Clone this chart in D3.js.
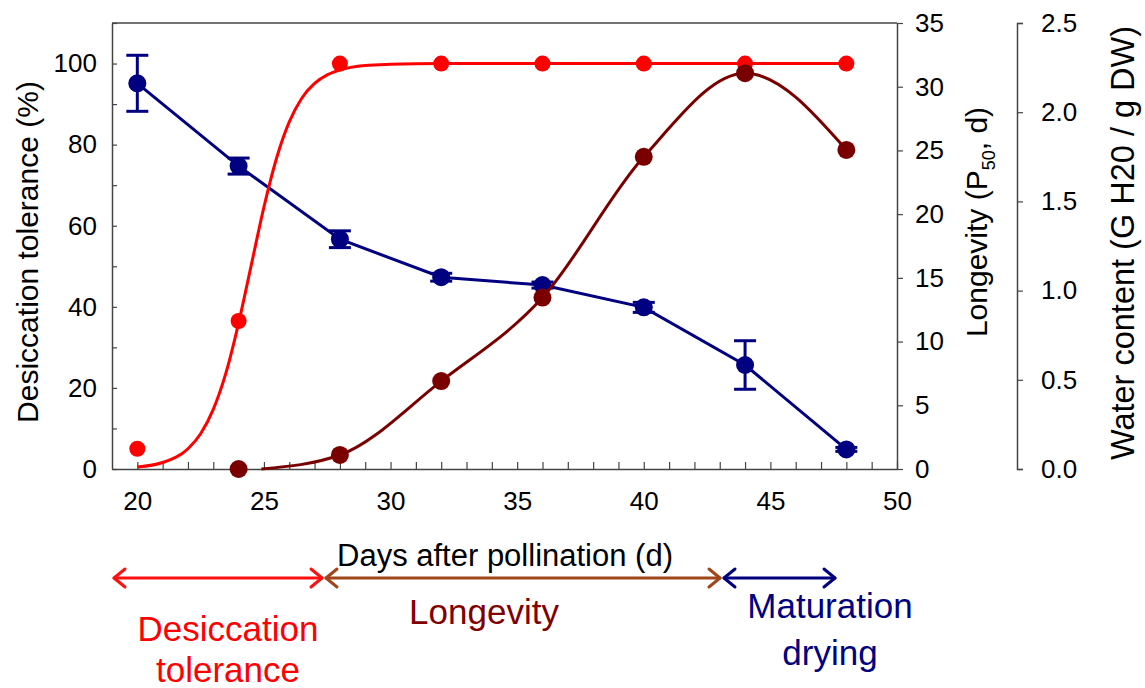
<!DOCTYPE html>
<html>
<head>
<meta charset="utf-8">
<script src="https://cdn.jsdelivr.net/npm/d3@7"></script>
<style>
  html, body { margin: 0; padding: 0; background: #fff; }
  svg { display: block; }
  text { font-family: "Liberation Sans", Arial, sans-serif; }
</style>
</head>
<body>
<svg id="chart" width="1145" height="688"></svg>
<script>
// ---------- DATA ----------
const days = [20, 24, 28, 32, 36, 40, 44, 48];
// Desiccation tolerance (%), left axis
const desiccationTol = [5, 36.5, 100, 100, 100, 100, 100, 100];
// Fitted desiccation-tolerance curve
const dtFitDays = [20, 21, 22, 22.5, 23, 23.5, 24, 24.5, 25, 25.5, 26, 26.5, 27, 27.5, 28, 29, 30, 32, 36, 40, 44, 48];
const dtFitVals = [0.5, 1.6, 5.0, 8.7, 14.7, 23.7, 36.0, 50.3, 64.6, 76.7, 85.6, 91.5, 95.1, 97.2, 98.4, 99.5, 99.8, 100, 100, 100, 100, 100];
// Longevity (P50, d), right axis
const longDays = [24, 28, 32, 36, 40, 44, 48];
const longevity = [0, 1.1, 6.9, 13.45, 24.5, 31.06, 25.04];
const longFitDays = [24.9, 28, 32, 36, 40, 44, 48];
const longFitVals = [0, 1.1, 6.9, 13.45, 24.5, 31.06, 25.04];
// Water content (g H2O / g DW), far right axis
const waterContent = [2.162, 1.698, 1.288, 1.075, 1.031, 0.906, 0.583, 0.11];
const waterErr = [0.157, 0.045, 0.047, 0.022, 0.017, 0.028, 0.136, 0.011];
// Tick values
const xMajorTicks = [20, 25, 30, 35, 40, 45, 50];
const xMinorTicks = d3.range(20, 51, 1);
const leftMajorTicks = [0, 20, 40, 60, 80, 100];
const leftMinorTicks = [10, 30, 50, 70, 90, 110];
const longTicks = [0, 5, 10, 15, 20, 25, 30, 35];
const waterTicks = [0, 0.5, 1.0, 1.5, 2.0, 2.5];
// Phase annotations
const phaseLabels = [["Desiccation", "tolerance"], ["Longevity"], ["Maturation", "drying"]];

// ---------- LAYOUT ----------
const L = 112, R = 897, T = 23, B = 469;
const svg = d3.select("#chart");
const x = d3.scaleLinear().domain([19, 50]).range([L, R]);
const yL = d3.scaleLinear().domain([0, 110]).range([B, T]);
const yR = d3.scaleLinear().domain([0, 35]).range([B, T]);
const yW = d3.scaleLinear().domain([0, 2.5]).range([B, T]);

const axisColor = "#444";
const tickFont = 26;
const RED = "#ff0000", DARKRED = "#7a0000", NAVY = "#000080";

function styleAxis(g) {
  g.selectAll("path.domain").attr("stroke", axisColor).attr("stroke-width", 1.5);
  g.selectAll(".tick line").attr("stroke", axisColor).attr("stroke-width", 1.2);
  g.selectAll(".tick text").attr("fill", "#000").attr("font-size", tickFont)
    .attr("font-family", "'Liberation Sans', Arial, sans-serif");
}

// Frame top line
svg.append("line").attr("x1", L).attr("x2", R).attr("y1", T).attr("y2", T)
  .attr("stroke", axisColor).attr("stroke-width", 1.5);

// Bottom axis: minor ticks (every day) inward
const gxMinor = svg.append("g").attr("transform", `translate(0,${B})`)
  .call(d3.axisBottom(x).tickValues(xMinorTicks).tickSizeInner(-7).tickSizeOuter(0).tickFormat(""));
styleAxis(gxMinor);
const gx = svg.append("g").attr("transform", `translate(0,${B})`)
  .call(d3.axisBottom(x).tickValues(xMajorTicks).tickSizeInner(0).tickSizeOuter(0).tickPadding(23).tickFormat(d3.format("d")));
styleAxis(gx);
gx.select("path.domain").remove();

// Left axis
const gyMinor = svg.append("g").attr("transform", `translate(${L},0)`)
  .call(d3.axisLeft(yL).tickValues(leftMinorTicks).tickSizeInner(-5).tickSizeOuter(0).tickFormat(""));
styleAxis(gyMinor);
const gy = svg.append("g").attr("transform", `translate(${L},0)`)
  .call(d3.axisLeft(yL).tickValues(leftMajorTicks).tickSizeInner(-5).tickSizeOuter(0).tickPadding(15).tickFormat(d3.format("d")));
styleAxis(gy);
gy.select("path.domain").remove();

// Right longevity axis
const gr = svg.append("g").attr("transform", `translate(${R},0)`)
  .call(d3.axisRight(yR).tickValues(longTicks).tickSizeInner(6).tickSizeOuter(0).tickPadding(12).tickFormat(d3.format("d")));
styleAxis(gr);

// Water content axis
const XW = 1017;
const gw = svg.append("g").attr("transform", `translate(${XW},0)`)
  .call(d3.axisRight(yW).tickValues(waterTicks).tickSizeInner(6).tickSizeOuter(6).tickPadding(18).tickFormat(d3.format(".1f")));
styleAxis(gw);

// Axis titles
svg.append("text").attr("transform", `translate(38,252) rotate(-90)`)
  .attr("text-anchor", "middle").attr("font-size", 30).text("Desiccation tolerance (%)");
const lt = svg.append("text").attr("transform", `translate(987,222) rotate(-90)`)
  .attr("text-anchor", "middle").attr("font-size", 30);
lt.append("tspan").text("Longevity (P");
lt.append("tspan").attr("font-size", 18).attr("dy", 8).text("50");
lt.append("tspan").attr("dy", -8).text(", d)");
svg.append("text").attr("transform", `translate(1134,243) rotate(-90)`)
  .attr("text-anchor", "middle").attr("font-size", 32.5).text("Water content (G H20 / g DW)");
svg.append("text").attr("x", 505).attr("y", 566).attr("text-anchor", "middle")
  .attr("font-size", 31).text("Days after pollination (d)");

// ---------- SERIES ----------
// Water content (navy), linear segments with error bars
const wIdx = d3.range(days.length);
svg.append("path").datum(wIdx)
  .attr("fill", "none").attr("stroke", NAVY).attr("stroke-width", 3)
  .attr("d", d3.line().x(i => x(days[i])).y(i => yW(waterContent[i])));
const eb = svg.append("g").attr("stroke", NAVY).attr("stroke-width", 3);
wIdx.forEach(i => {
  const cx = x(days[i]), y1 = yW(waterContent[i] + waterErr[i]), y2 = yW(waterContent[i] - waterErr[i]);
  eb.append("line").attr("x1", cx).attr("x2", cx).attr("y1", y1).attr("y2", y2);
  eb.append("line").attr("x1", cx - 11).attr("x2", cx + 11).attr("y1", y1).attr("y2", y1);
  eb.append("line").attr("x1", cx - 11).attr("x2", cx + 11).attr("y1", y2).attr("y2", y2);
});
svg.append("g").selectAll("circle").data(wIdx).join("circle")
  .attr("cx", i => x(days[i])).attr("cy", i => yW(waterContent[i])).attr("r", 9).attr("fill", NAVY);

// Desiccation tolerance (red) fitted curve + points
const dtIdx = d3.range(dtFitDays.length);
svg.append("path").datum(dtIdx)
  .attr("fill", "none").attr("stroke", RED).attr("stroke-width", 3)
  .attr("d", d3.line().curve(d3.curveMonotoneX).x(i => x(dtFitDays[i])).y(i => yL(dtFitVals[i])));
svg.append("g").selectAll("circle").data(wIdx).join("circle")
  .attr("cx", i => x(days[i])).attr("cy", i => yL(desiccationTol[i])).attr("r", 8).attr("fill", RED);

// Longevity (dark red) curve + points
const lfIdx = d3.range(longFitDays.length);
svg.append("path").datum(lfIdx)
  .attr("fill", "none").attr("stroke", DARKRED).attr("stroke-width", 3)
  .attr("d", d3.line().curve(d3.curveMonotoneX).x(i => x(longFitDays[i])).y(i => yR(longFitVals[i])));
svg.append("g").selectAll("circle").data(d3.range(longDays.length)).join("circle")
  .attr("cx", i => x(longDays[i])).attr("cy", i => yR(longevity[i])).attr("r", 9).attr("fill", DARKRED);

// ---------- PHASE ARROWS ----------
const arrowY = 578;
function dblArrow(x1, x2, color) {
  const g = svg.append("g").attr("stroke", color).attr("stroke-width", 3).attr("fill", "none")
    .attr("stroke-linecap", "round").attr("stroke-linejoin", "round");
  g.append("line").attr("x1", x1 + 1).attr("x2", x2 - 1).attr("y1", arrowY).attr("y2", arrowY);
  g.append("path").attr("d", `M${x1 + 12},${arrowY - 9} L${x1 + 1},${arrowY} L${x1 + 12},${arrowY + 9}`);
  g.append("path").attr("d", `M${x2 - 12},${arrowY - 9} L${x2 - 1},${arrowY} L${x2 - 12},${arrowY + 9}`);
}
dblArrow(113, 323, "#ff1010");
dblArrow(325, 721, "#a0461a");
dblArrow(723, 836, NAVY);

const annFont = "Lato, 'Open Sans', sans-serif";
function annot(lines, cx, y0, lh, color) {
  lines.forEach((s, k) => {
    svg.append("text").attr("x", cx).attr("y", y0 + k * lh).attr("text-anchor", "middle")
      .attr("font-family", annFont).attr("font-size", 35).attr("fill", color).text(s);
  });
}
annot(phaseLabels[0], 228, 641, 41, RED);
annot(phaseLabels[1], 484, 624, 41, "#800000");
annot(phaseLabels[2], 830, 618, 47, NAVY);
</script>
</body>
</html>
